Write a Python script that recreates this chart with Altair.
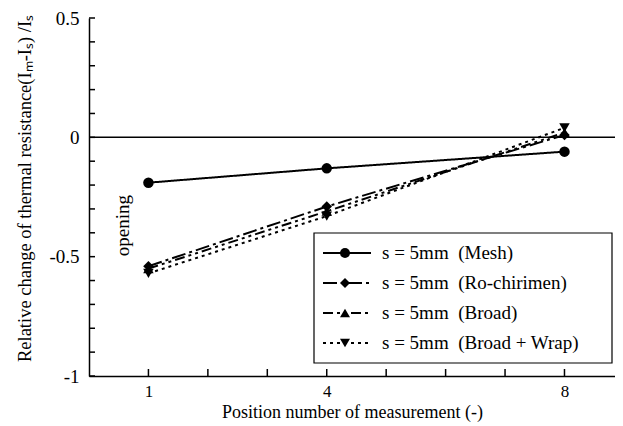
import altair as alt
import pandas as pd

# ---- data ----
positions = [1, 4, 8]
series_names = [
    "s = 5mm \u00a0(Mesh)",
    "s = 5mm \u00a0(Ro-chirimen)",
    "s = 5mm \u00a0(Broad)",
    "s = 5mm \u00a0(Broad + Wrap)",
]
mesh = [-0.19, -0.13, -0.06]
ro_chirimen = [-0.54, -0.29, 0.01]
broad = [-0.55, -0.31, 0.02]
broad_wrap = [-0.57, -0.33, 0.04]

x_tick_values = [1, 2, 3, 4, 5, 6, 7, 8]
x_label_values = [1, 4, 8]
y_tick_values = [round(-1 + 0.1 * i, 1) for i in range(16)]
y_label_values = [0.5, 0, -0.5, -1]

annot_text = ["opening"]
annot_x = [0.58]
annot_y = [-0.37]

# ---- styles ----
shapes = ["circle", "diamond", "triangle-up", "triangle-down"]
dashes = [[1, 0], [14, 4, 3, 4], [10, 4, 3, 4, 3, 4], [3, 4]]
FONT = "Liberation Serif"
W, H = 526, 358

series_values = [mesh, ro_chirimen, broad, broad_wrap]
rows = []
for name, vals in zip(series_names, series_values):
    for p, v in zip(positions, vals):
        rows.append({"series": name, "x": p, "y": v})
df = pd.DataFrame(rows)

xscale = alt.Scale(domain=[0, 8.85], nice=False, zero=False)
yscale = alt.Scale(domain=[-1, 0.5], nice=False, zero=False)
dash_scale = alt.Scale(domain=series_names, range=dashes)
shape_scale = alt.Scale(domain=series_names, range=shapes)

x_axis = alt.Axis(
    title="Position number of measurement (-)",
    values=x_label_values, tickSize=0, labelPadding=7, labelFontSize=17,
    titleFontSize=18, titlePadding=4, grid=False, labelFlush=False,
)
y_axis = alt.Axis(
    title="Relative change of thermal resistance(Iₘ-Iₛ) /Iₛ",
    values=y_label_values, tickSize=0, labelPadding=10, labelFontSize=19,
    titleFontSize=18.5, titlePadding=14, grid=False, labelFlush=False,
    labelExpr="datum.value == 0 ? '0' : toString(datum.value)",
    titleY=170,
)


def X(field):
    return alt.X(field, scale=xscale, axis=x_axis)


def Y(field):
    return alt.Y(field, scale=yscale, axis=y_axis)


lines = alt.Chart(df).mark_line(color="black", strokeWidth=2).encode(
    x=X("x:Q"),
    y=Y("y:Q"),
    strokeDash=alt.StrokeDash("series:N", scale=dash_scale, legend=None),
    detail="series:N",
)

points = alt.Chart(df).mark_point(filled=True, color="black", opacity=1, size=110).encode(
    x=X("x:Q"),
    y=Y("y:Q"),
    shape=alt.Shape("series:N", scale=shape_scale, legend=None),
)

zero = alt.Chart(pd.DataFrame({"y": [0]})).mark_rule(color="black", strokeWidth=1.5).encode(
    y=Y("y:Q")
)

xt = alt.Chart(pd.DataFrame({"x": x_tick_values})).mark_rule(color="black", strokeWidth=1.5).encode(
    x=X("x:Q"),
    y=alt.value(H),
    y2=alt.value(H - 7),
)
yt = alt.Chart(pd.DataFrame({"y": y_tick_values})).mark_rule(color="black", strokeWidth=1.5).encode(
    y=Y("y:Q"),
    x=alt.value(0),
    x2=alt.value(6),
)

annot = alt.Chart(pd.DataFrame({"t": annot_text, "x": annot_x, "y": annot_y})).mark_text(
    angle=270, font=FONT, fontSize=19, color="black"
).encode(
    x=X("x:Q"),
    y=Y("y:Q"),
    text="t:N",
)

# ---- manual legend ----
leg_df = pd.DataFrame({"series": series_names, "i": list(range(len(series_names)))})
leg_base = alt.Chart(leg_df).transform_calculate(ly="235 + datum.i * 30")

box = alt.Chart(pd.DataFrame({"b": [0]})).mark_rect(
    fill="white", stroke="black", strokeWidth=1.2
).encode(
    x=alt.value(225), x2=alt.value(523), y=alt.value(215), y2=alt.value(345)
)
leg_lines = leg_base.mark_rule(color="black", strokeWidth=2).encode(
    x=alt.value(234), x2=alt.value(282),
    y=alt.Y("ly:Q", scale=None),
    strokeDash=alt.StrokeDash("series:N", scale=dash_scale, legend=None),
)
leg_pts = leg_base.mark_point(filled=True, color="black", opacity=1, size=100).encode(
    x=alt.value(256),
    y=alt.Y("ly:Q", scale=None),
    shape=alt.Shape("series:N", scale=shape_scale, legend=None),
)
leg_text = leg_base.mark_text(
    align="left", baseline="middle", font=FONT, fontSize=19, color="black"
).encode(
    x=alt.value(293),
    y=alt.Y("ly:Q", scale=None),
    text="series:N",
)

chart = alt.layer(
    lines, zero, points, xt, yt, annot, box, leg_lines, leg_pts, leg_text
).properties(
    width=W, height=H,
    autosize=alt.AutoSizeParams(type="none"),
    padding={"left": 81, "top": 10, "right": 0, "bottom": 50},
    background="white",
).configure_view(stroke=None).configure_axis(
    labelFont=FONT, titleFont=FONT, labelColor="black", titleColor="black",
    domainColor="black", domainWidth=1.5, titleFontWeight="normal",
)

chart.save("out.html", embed_options={"renderer": "svg", "actions": False})
